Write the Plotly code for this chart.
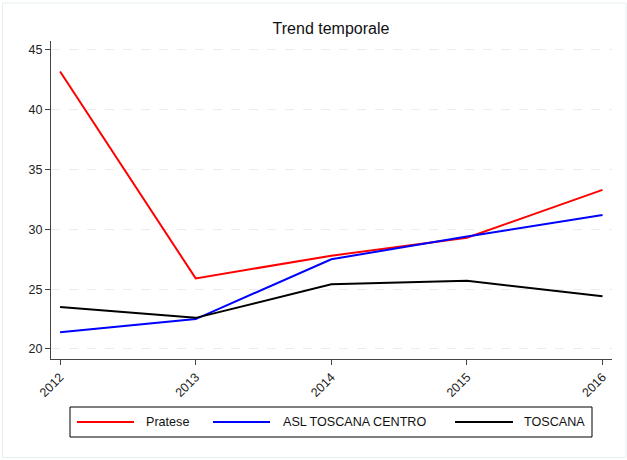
import plotly.graph_objects as go

years = [2012, 2013, 2014, 2015, 2016]
pratese = [43.2, 25.9, 27.8, 29.3, 33.3]
asl_toscana_centro = [21.4, 22.5, 27.5, 29.4, 31.2]
toscana = [23.5, 22.6, 25.4, 25.7, 24.4]

series = [
    ("Pratese", pratese, "#ff0000"),
    ("ASL TOSCANA CENTRO", asl_toscana_centro, "#0000ff"),
    ("TOSCANA", toscana, "#000000"),
]

W, H = 627, 460
L, R, T, B = 51, 15, 41, 101
pw, ph = W - L - R, H - T - B

fig = go.Figure()
for name, vals, color in series:
    fig.add_trace(go.Scatter(
        x=years, y=vals, name=name, mode="lines",
        line=dict(color=color, width=2),
        showlegend=False,
    ))


def px_x(p):
    return (p - L) / pw


def px_y(p):
    return (H - B - p) / ph


# faint frame around the whole graphic
fig.add_shape(type="rect", xref="paper", yref="paper",
              x0=px_x(2.5), x1=px_x(626), y0=px_y(457.5), y1=px_y(3),
              line=dict(color="#e6efef", width=1), fillcolor="rgba(0,0,0,0)",
              layer="below")

# legend box below the plot, with a long line sample for each series
fig.add_shape(type="rect", xref="paper", yref="paper",
              x0=px_x(70), x1=px_x(592), y0=px_y(437), y1=px_y(407),
              line=dict(color="#000000", width=1), fillcolor="white")
legend_pos = [(77, 134, 146), (213, 270, 283), (455, 513, 524)]
ly = px_y(422)
for (name, _, color), (x0, x1, xt) in zip(series, legend_pos):
    fig.add_shape(type="line", xref="paper", yref="paper",
                  x0=px_x(x0), x1=px_x(x1), y0=ly, y1=ly,
                  line=dict(color=color, width=2))
    fig.add_annotation(xref="paper", yref="paper", x=px_x(xt), y=ly,
                       text=name, showarrow=False, xanchor="left", yanchor="middle",
                       xshift=-2, font=dict(size=12.6, color="#111111"))

fig.update_layout(
    width=W, height=H,
    margin=dict(l=L, r=R, t=T, b=B),
    paper_bgcolor="white", plot_bgcolor="white",
    font=dict(family="Liberation Sans, Arial, sans-serif", size=12.5, color="#222222"),
    title=dict(text="Trend temporale", xref="paper", x=px_x(331), xanchor="center",
               yref="container", y=1 - 28 / H, yanchor="middle",
               font=dict(size=16, color="#111111")),
    showlegend=False,
    xaxis=dict(
        range=[2011.933, 2016.07],
        tickvals=years, ticktext=[str(y) for y in years],
        tickangle=-45, ticks="outside", ticklen=5, tickcolor="#444444",
        showline=True, linecolor="#444444", linewidth=1,
        showgrid=False, zeroline=False,
        tickfont=dict(size=12.5, color="#222222"),
    ),
    yaxis=dict(
        range=[19.16, 45.75],
        tickvals=[20, 25, 30, 35, 40, 45],
        ticks="outside", ticklen=5, tickcolor="#444444",
        showline=True, linecolor="#444444", linewidth=1,
        showgrid=True, gridcolor="#ececec", griddash="dash", gridwidth=1,
        zeroline=False,
        tickfont=dict(size=12.5, color="#222222"),
    ),
)

fig.write_html("out.html")
